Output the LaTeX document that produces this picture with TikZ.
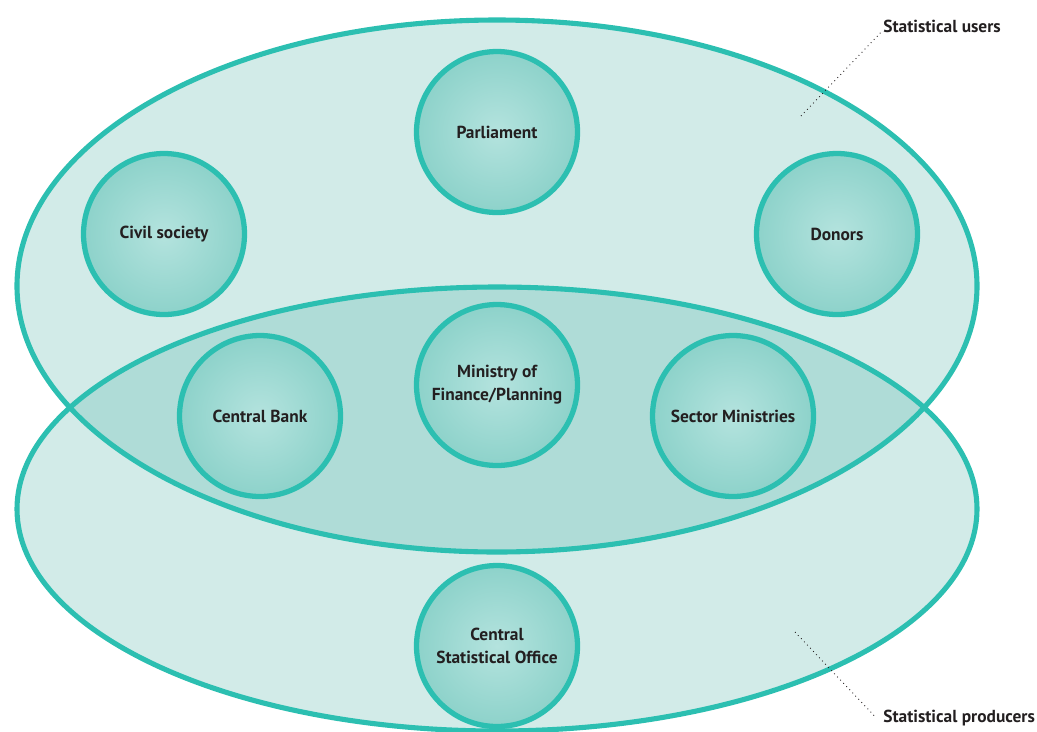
\documentclass[tikz,border=0pt]{standalone}
\usepackage{fontspec}
\setmainfont{PT Sans}
\usepackage{tikz}
\usetikzlibrary{positioning}

\definecolor{ringline}{HTML}{2CBFB1}
\definecolor{ringfill}{HTML}{D2EBE8}
\definecolor{overlapfill}{HTML}{AFDCD7}
\definecolor{bubblein}{HTML}{B4E3DE}
\definecolor{bubbleout}{HTML}{8DD2CA}
\definecolor{inkgray}{HTML}{231F20}

\tikzset{
  ring/.style={draw=ringline, line width=2.9pt},
  actor/.style={circle, draw=ringline, line width=3pt, minimum size=3.22cm, inner sep=0pt,
    align=center, inner color=bubblein, outer color=bubbleout, text=inkgray,
    font=\fontsize{9.9}{13}\selectfont\bfseries},
  tag/.style={inner sep=2pt, text=inkgray, font=\fontsize{9.9}{13}\selectfont\bfseries},
  pointer/.style={dotted, line width=0.5pt, draw=inkgray}
}

\begin{document}
\begin{tikzpicture}[x=0.02cm, y=-0.02cm]
        \useasboundingbox (0,0) rectangle (1037,731);

        % Two sets: users (top) and producers (bottom)
        \fill[ringfill] (497,286) ellipse [x radius=480, y radius=266];
        \fill[ringfill] (497,509) ellipse [x radius=480, y radius=222];
        \begin{scope}
            \clip (497,286) ellipse [x radius=480, y radius=266];
            \fill[overlapfill] (497,509) ellipse [x radius=480, y radius=222];
        \end{scope}
        \draw[ring] (497,286) ellipse [x radius=480, y radius=266];
        \draw[ring] (497,509) ellipse [x radius=480, y radius=222];

        % Nodes
        \node[actor] (parl) at (497,132) {Parliament};
        \node[actor] (civil) at (164,234) {Civil society};
        \node[actor] (donors) at (837,234) {Donors};
        \node[actor] (bank) at (260,416) {Central Bank};
        \node[actor] (mof) at (497,385) {Ministry of\\Finance/Planning};
        \node[actor] (sector) at (733,416) {Sector Ministries};
        \node[actor] (cso) at (497,646) {Central\\Statistical Office};

        % Set labels
        \node[tag, anchor=base west, inner sep=0pt] (userstag) at (883,32) {Statistical users};
        \node[tag, anchor=base west, inner sep=0pt] (prodtag) at (883,722) {Statistical producers};
        \coordinate (userspin) at (801,116);
        \coordinate (prodpin) at (795,632);
        \draw[pointer] (userspin) -- ([xshift=-1pt]userstag.base west);
        \draw[pointer] (prodpin) -- ([xshift=-4pt]prodtag.west);
    \end{tikzpicture}
\end{document}
